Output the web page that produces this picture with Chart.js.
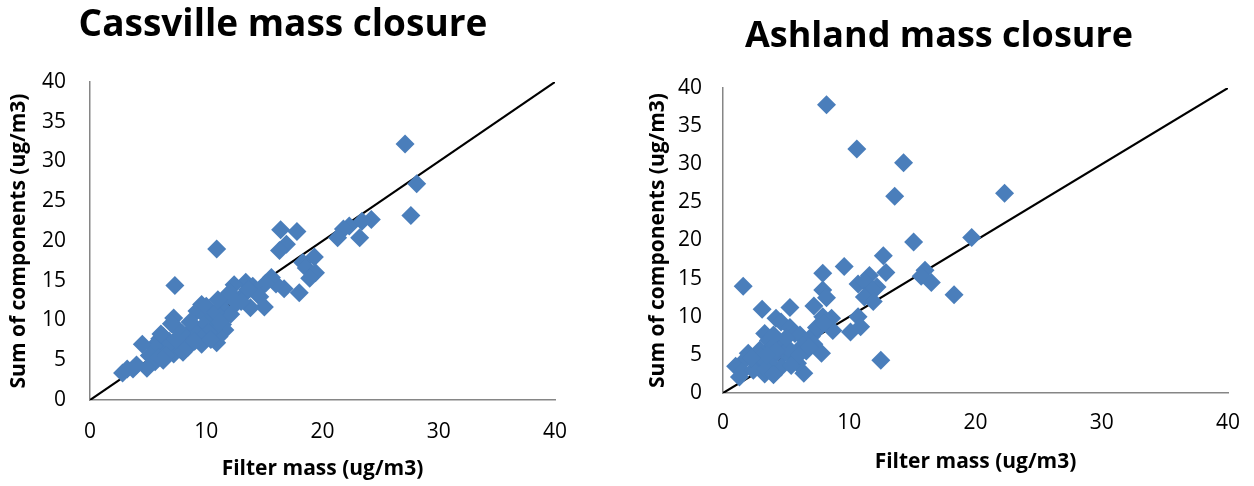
<!DOCTYPE html>
<html>
<head>
<meta charset="utf-8">
<script src="https://cdn.jsdelivr.net/npm/chart.js@4"></script>
<style>
    body { margin: 0; background: #ffffff; width: 1254px; height: 486px; overflow: hidden; }
    .chart-box { position: absolute; top: 0; }
</style>
</head>
<body>
<div class="chart-box" style="left:0px"><canvas id="cassvilleChart" width="580" height="486"></canvas></div>
<div class="chart-box" style="left:645px"><canvas id="ashlandChart" width="609" height="486"></canvas></div>
<script>
// Dados: [filter mass, sum of components]
const cassvilleTitle = 'Cassville mass closure';
const ashlandTitle = 'Ashland mass closure';
const xAxisTitle = 'Filter mass (ug/m3)';
const yAxisTitle = 'Sum of components (ug/m3)';
const axisTicks = [0, 10, 20, 30, 40];        // eixo x
const axisTicksY = [0, 5, 10, 15, 20, 25, 30, 35, 40];
const oneToOneLine = [[0, 0], [40, 40]];

const cassvillePoints = [
    [27.1, 32.2], [28.1, 27.2], [27.6, 23.2], [24.2, 22.7], [23.4, 22.5], [23.2, 20.4],
    [22.3, 21.9], [21.8, 21.5], [21.3, 20.4], [16.4, 21.4], [17.8, 21.2], [16.9, 19.6],
    [16.3, 18.8], [10.9, 19.0], [7.3, 14.4], [19.3, 18.0], [18.3, 17.3], [18.6, 16.6],
    [19.4, 16.0], [18.9, 15.3], [18.0, 13.5], [16.7, 14.0], [16.0, 14.6], [15.6, 15.4],
    [15.1, 14.7], [15.0, 11.7], [14.3, 13.6], [14.0, 14.3], [13.4, 14.8], [13.2, 13.2],
    [13.8, 11.6], [13.0, 12.4], [12.4, 14.5], [12.0, 13.5], [11.7, 12.9], [11.5, 11.4],
    [12.1, 10.8], [11.4, 9.5], [11.6, 8.8], [10.9, 7.2], [11.1, 8.0], [10.3, 10.2],
    [10.6, 9.0], [9.6, 12.0], [9.2, 11.2], [9.9, 10.6], [9.8, 9.4], [10.2, 8.5],
    [9.6, 7.0], [9.3, 8.2], [8.8, 8.9], [8.5, 7.8], [8.2, 7.2], [7.9, 8.4],
    [7.5, 9.0], [7.2, 10.3], [7.0, 9.6], [7.7, 6.4], [7.2, 5.8], [8.0, 6.0],
    [6.8, 7.4], [6.3, 8.0], [6.0, 7.7], [6.5, 6.6], [5.9, 6.2], [5.5, 6.8],
    [4.5, 7.0], [5.1, 5.6], [5.6, 4.8], [5.9, 5.3], [6.6, 5.6], [4.9, 4.0],
    [3.7, 3.9], [2.8, 3.4], [3.2, 3.9], [4.0, 4.4], [6.3, 5.0], [7.4, 7.6],
    [8.6, 9.8], [10.0, 11.8], [10.8, 11.0], [11.0, 12.6], [12.6, 12.2], [13.6, 13.9],
    [14.6, 13.0], [8.4, 6.6], [9.0, 7.4], [10.4, 7.6], [11.2, 9.8], [6.1, 8.3]
];

const ashlandPoints = [
    [8.2, 37.8], [10.6, 32.0], [14.3, 30.2], [13.6, 25.8], [22.3, 26.2], [19.7, 20.4],
    [15.1, 19.8], [12.7, 18.0], [9.6, 16.6], [7.9, 15.7], [12.9, 15.8], [11.6, 15.4],
    [16.0, 16.1], [15.7, 15.3], [16.5, 14.5], [10.7, 14.3], [11.2, 14.6], [12.2, 13.9],
    [11.9, 13.5], [7.9, 13.5], [8.2, 12.5], [11.2, 12.6], [11.9, 12.0], [18.3, 12.9],
    [1.6, 14.0], [3.1, 11.0], [5.3, 11.2], [7.2, 11.4], [10.7, 10.0], [10.9, 8.7],
    [10.1, 8.0], [8.6, 9.8], [7.9, 10.0], [8.7, 8.2], [7.6, 8.5], [7.0, 7.4],
    [7.8, 5.2], [7.2, 6.4], [12.5, 4.3], [4.2, 9.8], [4.6, 9.3], [5.3, 8.6],
    [5.7, 7.8], [6.1, 7.6], [6.3, 6.2], [6.4, 2.6], [3.3, 7.8], [3.6, 6.9],
    [4.4, 6.9], [3.9, 6.1], [4.9, 5.2], [5.5, 4.7], [5.9, 3.9], [4.6, 3.4],
    [3.3, 2.5], [3.6, 3.9], [2.7, 3.9], [2.0, 5.2], [1.7, 4.3], [1.0, 3.5],
    [1.3, 2.1], [1.5, 2.8], [2.9, 5.6], [3.0, 4.7], [3.9, 4.7], [4.8, 6.2],
    [6.6, 5.5], [5.2, 5.8], [4.2, 5.5], [2.4, 3.0], [3.4, 3.1], [4.0, 2.4],
    [5.4, 3.6], [6.0, 5.0], [5.0, 7.2], [4.0, 7.6], [3.5, 5.0], [2.2, 4.6],
    [7.4, 8.6], [8.0, 9.2], [6.8, 6.0]
];

// Estilos
const MARKER_COLOR = '#4A7EBB';
const AXIS_COLOR = '#868686';
const FONT_FAMILY = "'Open Sans', 'Noto Sans', sans-serif";

function toXY(list) {
    return list.map(p => ({ x: p[0], y: p[1] }));
}

// Monta um gráfico de dispersão com a linha 1:1
function buildChart(canvasId, title, points, layout) {
    const ctx = document.getElementById(canvasId).getContext('2d');
    return new Chart(ctx, {
        type: 'scatter',
        data: {
            datasets: [
                {
                    data: toXY(points),
                    pointStyle: 'rectRot',
                    pointRadius: 9.5,
                    pointHoverRadius: 9.5,
                    backgroundColor: MARKER_COLOR,
                    borderColor: MARKER_COLOR,
                    borderWidth: 0,
                    order: 0
                },
                {
                    type: 'line',
                    data: toXY(oneToOneLine),
                    borderColor: '#000000',
                    borderWidth: 2.2,
                    pointRadius: 0,
                    fill: false,
                    order: 1
                }
            ]
        },
        options: {
            responsive: false,
            animation: false,
            // padding à direita: espaço para o rótulo "40" sem descentrar o título
            layout: { padding: { left: 0, top: 0, bottom: 0, right: layout.padRight } },
            plugins: {
                legend: { display: false },
                tooltip: { enabled: false },
                title: {
                    display: true,
                    text: title,
                    color: '#000000',
                    font: { family: FONT_FAMILY, size: layout.titleSize, weight: 'bold', lineHeight: 1.2 },
                    padding: { top: layout.titleTop, bottom: layout.titleBottom }
                }
            },
            scales: {
                x: {
                    type: 'linear',
                    min: 0,
                    max: 40,
                    afterBuildTicks: axis => { axis.ticks = axisTicks.map(v => ({ value: v })); },
                    grid: { display: false, drawTicks: false },
                    border: { display: true, color: AXIS_COLOR, width: 1.5 },
                    ticks: {
                        color: '#000000',
                        padding: layout.xTickPad,
                        font: { family: FONT_FAMILY, size: 21 }
                    },
                    title: {
                        display: true,
                        text: xAxisTitle,
                        color: '#000000',
                        font: { family: FONT_FAMILY, size: 21, weight: 'bold', lineHeight: 1.2 },
                        padding: { top: 0, bottom: layout.xTitlePad }
                    },
                    afterFit: axis => {
                        axis.height = layout.xHeight;
                        axis.paddingLeft = 0;
                        axis.paddingRight = 0;
                    }
                },
                y: {
                    type: 'linear',
                    min: 0,
                    max: 40,
                    afterBuildTicks: axis => { axis.ticks = axisTicksY.map(v => ({ value: v })); },
                    grid: { display: false, drawTicks: false },
                    border: { display: true, color: AXIS_COLOR, width: 1.5 },
                    ticks: {
                        color: '#000000',
                        padding: layout.yTickPad,
                        font: { family: FONT_FAMILY, size: 21 }
                    },
                    title: {
                        display: true,
                        text: yAxisTitle,
                        color: '#000000',
                        font: { family: FONT_FAMILY, size: 21, weight: 'bold', lineHeight: 1.2 },
                        padding: { top: layout.yTitlePad, bottom: 0 }
                    },
                    afterFit: axis => {
                        axis.width = layout.yWidth;
                        axis.paddingTop = 0;
                        axis.paddingBottom = 0;
                    }
                },
                // eixo vazio à direita, só para reservar espaço
                spacer: {
                    type: 'linear',
                    position: 'right',
                    grid: { display: false, drawTicks: false },
                    border: { display: false },
                    ticks: { display: false },
                    afterFit: axis => {
                        axis.width = layout.rightSpace;
                        axis.paddingTop = 0;
                        axis.paddingBottom = 0;
                    }
                }
            }
        }
    });
}

// Cassville: área do gráfico x 90-555, y 82-400
buildChart('cassvilleChart', cassvilleTitle, cassvillePoints, {
    titleSize: 37, titleTop: 2.8, titleBottom: 34.8, padRight: 14, rightSpace: 11,
    xHeight: 86, xTickPad: 19.4, xTitlePad: 4.4,
    yWidth: 90, yTickPad: 24, yTitlePad: 6
});

// Ashland: área do gráfico x 723-1228, y 88-393
buildChart('ashlandChart', ashlandTitle, ashlandPoints, {
    titleSize: 36, titleTop: 15.4, titleBottom: 29.4, padRight: 21, rightSpace: 5,
    xHeight: 93, xTickPad: 17.4, xTitlePad: 11.4,
    yWidth: 78, yTickPad: 21, yTitlePad: 0.4
});
</script>
</body>
</html>
